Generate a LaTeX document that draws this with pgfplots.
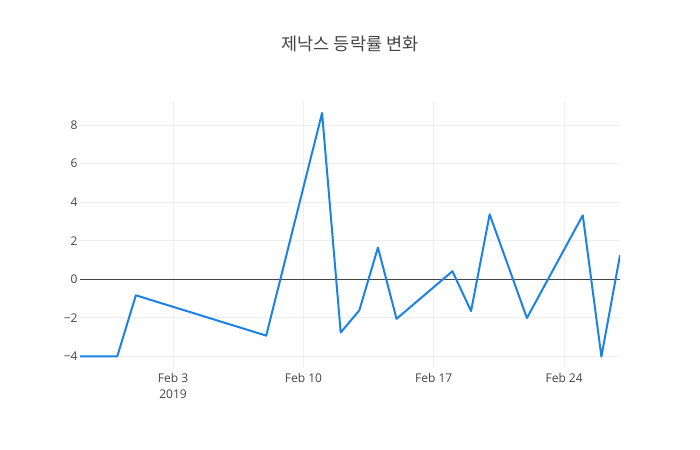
\documentclass[border=0pt]{standalone}
\usepackage{fontspec}
\setmainfont{Open Sans}
\newfontfamily\cjk{Noto Sans CJK KR}
\usepackage{pgfplots}
\pgfplotsset{compat=1.18}
\definecolor{plotblue}{RGB}{28,130,230}
\definecolor{txt}{HTML}{444444}
\definecolor{gridc}{HTML}{EEEEEE}

% day of year: Jan 29 = 29, Feb 3 = 34, ...
\pgfplotstableread{
day  chg
29  -4.00
30  -4.00
31  -4.00
32  -0.83
39  -2.92
42   8.63
43  -2.76
44  -1.61
45   1.65
46  -2.05
49   0.42
50  -1.65
51   3.37
53  -2.01
56   3.32
57  -4.01
58   1.25
}\rates
\usepackage{pgfplotstable}

\begin{document}
\begin{tikzpicture}[x=1bp,y=1bp]
\path[use as bounding box] (0,0) rectangle (700,450);
\node[text=txt,font=\cjk\fontsize{17.5bp}{20bp}\selectfont] at (350,406) {제낙스 등락률 변화};
\begin{axis}[
  at={(80bp,82bp)}, anchor=south west,
  scale only axis, width=540bp, height=267bp,
  xmin=29, xmax=58, ymin=-4.6, ymax=9.25,
  axis line style={draw=none},
  major tick length=0pt,
  xtick={34,41,48,55},
  xticklabels={{Feb 3\\2019},{Feb 10},{Feb 17},{Feb 24}},
  xticklabel style={align=center, text=txt, font=\fontsize{12bp}{16bp}\selectfont, yshift=-2bp},
  ytick={-4,-2,0,2,4,6,8},
  yticklabels={−4,−2,0,2,4,6,8},
  yticklabel style={text=txt, font=\fontsize{12bp}{14bp}\selectfont, xshift=1bp},
  grid=major,
  major grid style={draw=gridc, line width=1bp},
  clip=true,
]
\addplot[draw=txt, line width=1bp, forget plot] coordinates {(29,0) (58,0)};
\addplot[plotblue, line width=2bp, line join=round] table[x=day,y=chg] {\rates};
\end{axis}
\end{tikzpicture}
\end{document}
